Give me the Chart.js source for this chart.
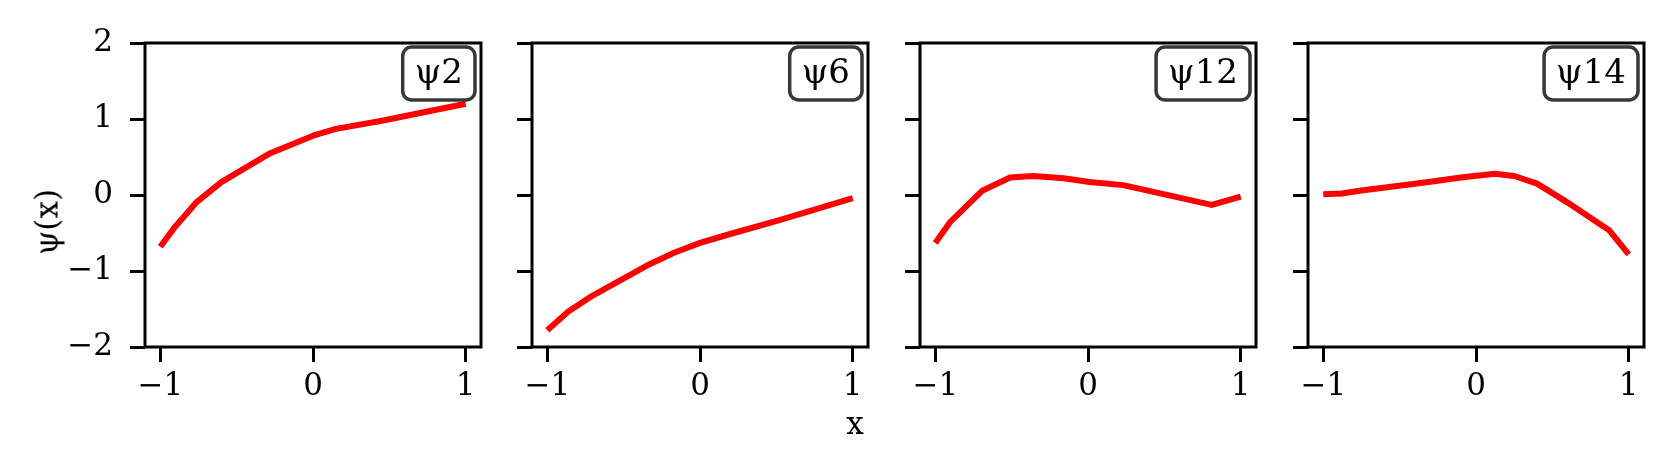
<!DOCTYPE html>
<html>
<head>
<meta charset="utf-8">
<script src="https://cdn.jsdelivr.net/npm/chart.js@4"></script>
<style>
  html, body { margin: 0; padding: 0; background: #fff; }
  #fig { position: relative; width: 1673px; height: 473px; overflow: hidden; font-family: 'DejaVu Serif', serif; }
  #fig canvas { position: absolute; top: 0; }
  .lbl { position: absolute; font-size: 31px; line-height: 1; color: #000; white-space: nowrap; }
  #ylab { left: 47px; top: 222px; transform: translate(-50%, -50%) rotate(-90deg); }
  #xlab { left: 855px; top: 408px; transform: translateX(-50%); }
</style>
</head>
<body>
<div id="fig">
  <canvas id="c0"></canvas>
  <canvas id="c1"></canvas>
  <canvas id="c2"></canvas>
  <canvas id="c3"></canvas>
  <div class="lbl" id="ylab">ψ(x)</div>
  <div class="lbl" id="xlab">x</div>
</div>
<script>
// dados
const panelNames = ['ψ2', 'ψ6', 'ψ12', 'ψ14'];

const psi2X = [-1, -0.9, -0.76, -0.6, -0.28, 0, 0.15, 0.46, 1];
const psi2Y = [-0.68, -0.41, -0.09, 0.17, 0.55, 0.78, 0.87, 0.98, 1.2];

const psi6X = [-1, -0.86, -0.7, -0.33, -0.17, 0, 0.22, 0.52, 1];
const psi6Y = [-1.78, -1.53, -1.32, -0.91, -0.76, -0.63, -0.5, -0.33, -0.04];

const psi12X = [-1, -0.9, -0.69, -0.51, -0.36, -0.16, 0.01, 0.23, 0.81, 1];
const psi12Y = [-0.63, -0.35, 0.06, 0.23, 0.25, 0.22, 0.17, 0.13, -0.13, -0.02];

const psi14X = [-1, -0.88, -0.75, -0.31, -0.1, 0.12, 0.25, 0.4, 0.6, 0.81, 0.87, 1];
const psi14Y = [0.01, 0.02, 0.06, 0.17, 0.23, 0.28, 0.25, 0.15, -0.1, -0.38, -0.46, -0.78];

const xTicks = [-1, 0, 1];
const yTicks = [-2, -1, 0, 1, 2];

const seriesX = [psi2X, psi6X, psi12X, psi14X];
const seriesY = [psi2Y, psi6Y, psi12Y, psi14Y];

// layout
const FONT = 'DejaVu Serif';
const FS = 31;
const BOX_FS = 34;
const plotTop = 43, plotW = 336, plotH = 304;
const plotLefts = [145, 532, 920, 1308];
const figH = 473;

const fmt = v => (v < 0 ? '\u2212' + Math.abs(v) : String(v));

// moldura + caixa com o nome
const framePlugin = {
  id: 'frame',
  afterDraw(chart, args, opts) {
    const { ctx, chartArea: a } = chart;
    ctx.save();
    ctx.strokeStyle = '#000';
    ctx.lineWidth = 3;
    ctx.strokeRect(a.left, a.top, a.right - a.left, a.bottom - a.top);

    ctx.font = BOX_FS + 'px "' + FONT + '"';
    const tw = ctx.measureText(opts.text).width;
    const padX = 12, h = 53;
    const w = tw + 2 * padX;
    const bx = a.right - 6 - w, by = a.top + 4;
    ctx.beginPath();
    ctx.roundRect(bx, by, w, h, 9);
    ctx.fillStyle = 'rgba(255,255,255,0.85)';
    ctx.fill();
    ctx.strokeStyle = '#383838';
    ctx.lineWidth = 3.5;
    ctx.stroke();
    ctx.fillStyle = '#000';
    ctx.textAlign = 'center';
    ctx.textBaseline = 'middle';
    ctx.fillText(opts.text, bx + w / 2, by + h / 2 + 1);
    ctx.restore();
  }
};

function makePanel(i) {
  const canvas = document.getElementById('c' + i);
  const yW = i === 0 ? plotLefts[0] : 40;
  const rightPad = 5;
  canvas.width = yW + plotW + rightPad;
  canvas.height = figH;
  canvas.style.left = (plotLefts[i] - yW) + 'px';

  const pts = seriesX[i].map((x, k) => ({ x: x, y: seriesY[i][k] }));

  const tickGrid = {
    drawOnChartArea: false,
    drawTicks: true,
    tickLength: 15,
    tickWidth: 3,
    tickColor: '#000',
    color: '#000',
    lineWidth: 3
  };

  new Chart(canvas.getContext('2d'), {
    type: 'line',
    data: {
      datasets: [{
        data: pts,
        borderColor: '#ff0000',
        borderWidth: 6,
        borderCapStyle: 'butt',
        borderJoinStyle: 'round',
        pointRadius: 0,
        tension: 0,
        fill: false
      }]
    },
    options: {
      responsive: false,
      animation: false,
      devicePixelRatio: 1,
      layout: { padding: { top: plotTop, right: rightPad, left: 0, bottom: 0 } },
      plugins: {
        legend: { display: false },
        tooltip: { enabled: false },
        frame: { text: panelNames[i] }
      },
      scales: {
        x: {
          type: 'linear',
          min: -1.1,
          max: 1.1,
          afterBuildTicks: s => { s.ticks = xTicks.map(v => ({ value: v })); },
          afterFit: s => { s.height = figH - plotTop - plotH; },
          grid: tickGrid,
          border: { display: false },
          ticks: {
            color: '#000',
            font: { family: FONT, size: FS },
            padding: 6,
            maxRotation: 0,
            autoSkip: false,
            callback: v => fmt(v)
          }
        },
        y: {
          type: 'linear',
          min: -2,
          max: 2,
          afterBuildTicks: s => { s.ticks = yTicks.map(v => ({ value: v })); },
          afterFit: s => { s.width = yW; },
          grid: tickGrid,
          border: { display: false },
          ticks: {
            color: '#000',
            font: { family: FONT, size: FS },
            padding: 17,
            autoSkip: false,
            callback: v => (i === 0 ? fmt(v) : '')
          }
        }
      }
    },
    plugins: [framePlugin]
  });
}

for (let i = 0; i < 4; i++) makePanel(i);
</script>
</body>
</html>
